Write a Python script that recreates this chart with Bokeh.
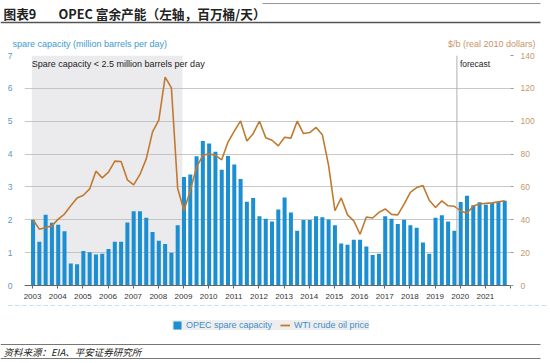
from bokeh.plotting import figure
from bokeh.layouts import column
from bokeh.models import (Range1d, LinearAxis, FixedTicker, Label, Span, BoxAnnotation,
                          Legend, LegendItem, ColumnDataSource)
from bokeh.core.properties import value
from bokeh.embed import file_html
from bokeh.resources import INLINE

# ---------------- data ----------------
years = list(range(2003, 2022))
quarters = ["Q1", "Q2", "Q3", "Q4"]

spare_capacity = [
    2.00, 1.33, 2.15, 1.91,   # 2003
    1.85, 1.65, 0.67, 0.65,   # 2004
    1.05, 1.01, 0.94, 0.97,   # 2005
    1.11, 1.33, 1.33, 1.92,   # 2006
    2.26, 2.26, 2.06, 1.63,   # 2007
    1.36, 1.26, 1.00, 1.83,   # 2008
    3.30, 3.38, 3.93, 4.40,   # 2009
    4.32, 4.07, 3.52, 3.94,   # 2010
    3.68, 3.24, 2.55, 2.66,   # 2011
    2.11, 2.03, 1.95, 2.31,   # 2012
    2.68, 2.22, 1.67, 1.99,   # 2013
    1.99, 2.11, 2.08, 2.01,   # 2014
    1.83, 1.28, 1.24, 1.39,   # 2015
    1.39, 1.19, 0.93, 0.97,   # 2016
    2.11, 2.03, 1.87, 2.00,   # 2017
    1.83, 1.76, 1.31, 0.97,   # 2018
    2.06, 2.14, 1.95, 1.67,   # 2019
    2.54, 2.73, 2.44, 2.53,   # 2020
    2.46, 2.51, 2.54, 2.58,   # 2021
]

wti_price = [
    40.0, 34.3, 35.3, 36.3,     # 2003
    40.4, 43.5, 48.6, 53.3,     # 2004
    54.9, 58.8, 69.6, 65.5,     # 2005
    69.0, 75.7, 75.5, 64.3,     # 2006
    61.2, 67.6, 77.1, 93.5,     # 2007
    100.6, 126.8, 120.3, 59.0,  # 2008
    45.6, 57.8, 72.0, 79.2,     # 2009
    80.2, 79.2, 76.5, 87.3,     # 2010
    94.0, 100.2, 88.0, 92.4,    # 2011
    100.0, 90.0, 88.4, 85.0,    # 2012
    90.2, 89.7, 100.0, 92.5,    # 2013
    93.1, 96.2, 91.8, 73.0,     # 2014
    45.5, 53.3, 43.0, 39.3,     # 2015
    31.2, 41.7, 41.1, 44.5,     # 2016
    46.6, 43.3, 43.0, 49.5,     # 2017
    56.7, 59.6, 60.8, 51.9,     # 2018
    47.5, 51.5, 48.5, 48.2,     # 2019
    45.4, 44.0, 48.4, 49.6,     # 2020
    50.0, 50.3, 51.0, 51.6,     # 2021
]

left_ticks = [0, 1, 2, 3, 4, 5, 6, 7]
right_ticks = [0, 20, 40, 60, 80, 100, 120, 140]
year_ticks = list(range(2003, 2023))

shade_start, shade_end = 2002.97, 2008.96
forecast_start = 2019.87

series_names = ["OPEC spare capacity", "WTI crude oil price"]
title_tag = "图表9"
title_text = "OPEC 富余产能（左轴，百万桶/天）"
left_axis_title = "spare capacity (million barrels per day)"
right_axis_title = "$/b (real 2010 dollars)"
shade_note = "Spare capacity < 2.5 million barrels per day"
forecast_note = "forecast"
source_text = "资料来源：EIA、平安证券研究所"

# quarter positions on a continuous year axis
xq = [y + q * 0.25 + 0.02 for y in years for q in range(len(quarters))]
src = ColumnDataSource(dict(x=xq, spare=spare_capacity, wti=wti_price))

FONT = "Liberation Sans"
CJK = "Noto Sans CJK SC"
BAR_COLOR = "#1b8fd1"
LINE_COLOR = "#c07a30"
W = 550


def blank_figure(height):
    """A figure whose frame is the whole canvas; data coords == pixel coords (y down)."""
    f = figure(width=W, height=height, x_range=Range1d(0, W), y_range=Range1d(height, 0),
               x_axis_type=None, y_axis_type=None, output_backend="svg", toolbar_location=None,
               min_border=0, min_border_left=0, min_border_right=0, min_border_top=0,
               min_border_bottom=0, frame_align=False)
    f.outline_line_color = None
    f.xgrid.grid_line_color = None
    f.ygrid.grid_line_color = None
    f.background_fill_color = "white"
    f.border_fill_color = "white"
    return f


# ---------------- header (page y 0..50) ----------------
top = blank_figure(50)
top.text(x=[3, 58], y=[13, 13], text=[title_tag, title_text], text_font=value(CJK),
         text_font_style="bold", text_font_size="12.7px", text_color="#222222",
         text_baseline="middle", text_align="left")
top.segment(x0=[262], y0=[3], x1=[540], y1=[3], line_color="#999999", line_width=1)
top.segment(x0=[0], y0=[22], x1=[540], y1=[22], line_color="#555555", line_width=1.5)
top.text(x=[12], y=[43], text=[left_axis_title], text_font=value(FONT), text_font_size="9px",
         text_color="#3d9ad0", text_baseline="middle", text_align="left")
top.text(x=[535], y=[43], text=[right_axis_title], text_font=value(FONT), text_font_size="9px",
         text_color="#c8956a", text_baseline="middle", text_align="right")

# ---------------- main chart (page y 50..305) ----------------
# frame in page px: left 24, right 510, top 55, bottom 285
p = figure(width=W, height=255, x_range=Range1d(2002.68, 2022.0), y_range=Range1d(0, 7),
           output_backend="svg", toolbar_location=None, frame_align=False,
           min_border_left=24, min_border_right=40, min_border_top=5, min_border_bottom=20)
p.outline_line_color = None
p.background_fill_color = "white"
p.border_fill_color = "white"
p.extra_y_ranges = {"price": Range1d(0, 140)}

p.add_layout(BoxAnnotation(left=shade_start, right=shade_end, fill_color="#b4b4be",
                           fill_alpha=0.27, line_color=None, level="underlay"))

bars = p.vbar(x="x", top="spare", width=0.16, source=src, fill_color=BAR_COLOR, line_color=None)
line = p.line(x="x", y="wti", source=src, y_range_name="price", line_color=LINE_COLOR, line_width=1.6)

p.add_layout(Span(location=forecast_start, dimension="height", line_color="#b0b0b0", line_width=1))

xa = p.xaxis[0]
xa.ticker = FixedTicker(ticks=year_ticks)
xa.major_label_overrides = {2022: ""}
xa.axis_line_color = "#666666"
xa.major_tick_line_color = "#666666"
xa.major_tick_out = 3
xa.major_tick_in = 0
xa.minor_tick_line_color = None
xa.major_label_text_font = FONT
xa.major_label_text_font_size = "8px"
xa.major_label_text_color = "#333333"
xa.major_label_standoff = 5

ya = p.yaxis[0]
ya.ticker = FixedTicker(ticks=left_ticks)
ya.axis_line_color = None
ya.major_tick_line_color = None
ya.minor_tick_line_color = None
ya.major_label_text_font = FONT
ya.major_label_text_font_size = "8.5px"
ya.major_label_text_color = "#5b98c2"
ya.major_label_standoff = 6

ra = LinearAxis(y_range_name="price", ticker=FixedTicker(ticks=right_ticks))
ra.axis_line_color = None
ra.major_tick_line_color = "#999999"
ra.major_tick_out = 3
ra.major_tick_in = 0
ra.minor_tick_line_color = None
ra.major_label_text_font = FONT
ra.major_label_text_font_size = "8.5px"
ra.major_label_text_color = "#c49a6c"
ra.major_label_text_align = "right"
ra.major_label_standoff = 7
p.add_layout(ra, "right")

p.xgrid.grid_line_color = None
p.ygrid.ticker = FixedTicker(ticks=left_ticks)
p.ygrid.grid_line_color = "#c8c8c8"
p.ygrid.grid_line_width = 1

p.add_layout(Label(x=shade_start, y=6.75, text=shade_note, text_font=FONT,
                   text_font_size="9px", text_color="#222222", text_baseline="middle"))
p.add_layout(Label(x=forecast_start + 0.12, y=6.75, text=forecast_note, text_font=FONT,
                   text_font_size="8.5px", text_color="#222222", text_baseline="middle"))

# ---------------- footer (page y 305..363): legend + source ----------------
bot = blank_figure(58)
# legend renderers reuse the chart's data on off-canvas ranges (only their legend swatches show)
bot.extra_x_ranges = {"yr": Range1d(2002.68, 2022.0)}
bot.extra_y_ranges = {"off": Range1d(-100, -90), "offp": Range1d(-1000, -900)}
lg_bar = bot.vbar(x="x", top="spare", width=0.16, source=src, x_range_name="yr", y_range_name="off",
                  fill_color=BAR_COLOR, line_color=None)
lg_line = bot.line(x="x", y="wti", source=src, x_range_name="yr", y_range_name="offp",
                   line_color=LINE_COLOR, line_width=1.8)
legend = Legend(items=[LegendItem(label=series_names[0], renderers=[lg_bar]),
                       LegendItem(label=series_names[1], renderers=[lg_line])],
                location=(172, 33), orientation="horizontal",
                background_fill_color="#eeeeee", background_fill_alpha=1.0,
                border_line_color=None, label_text_font=FONT, label_text_font_size="9px",
                label_text_color="#3d8fcc", glyph_width=10, glyph_height=10, label_height=10,
                padding=2, spacing=8, label_standoff=4, margin=0)
bot.add_layout(legend)
bot.segment(x0=[0, 0], y0=[39, 53], x1=[540, 540], y1=[39, 53], line_color="#777777", line_width=1)
bot.text(x=[3], y=[46], text=[source_text], text_font=value(CJK), text_font_style="italic",
         text_font_size="9.5px", text_color="#222222", text_baseline="middle", text_align="left")

layout = column(top, p, bot, spacing=0)
open("out.html", "w").write(file_html(layout, INLINE))
